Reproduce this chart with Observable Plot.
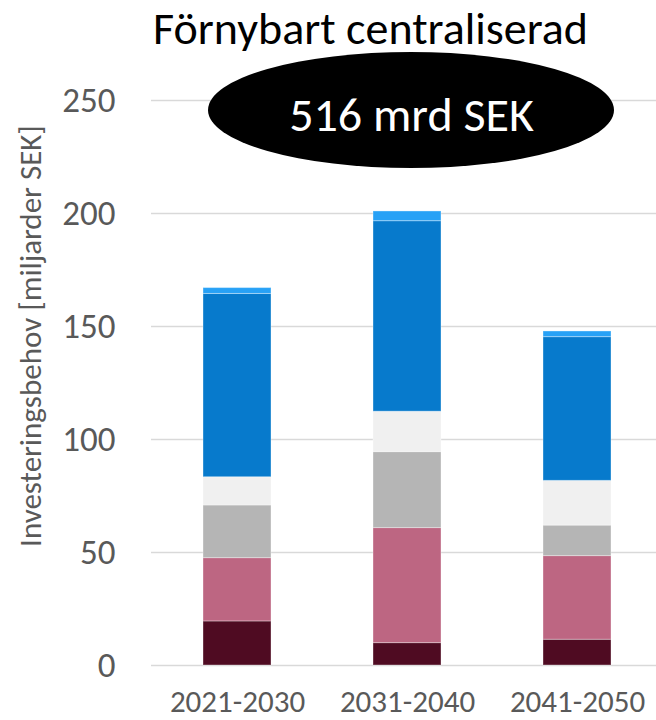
<!DOCTYPE html>
<html>
<head>
<meta charset="utf-8">
<script src="https://cdn.jsdelivr.net/npm/d3@7"></script>
<script src="https://cdn.jsdelivr.net/npm/@observablehq/plot@0.6"></script>
<style>
  body { margin: 0; background: #fff; }
</style>
</head>
<body>
<div id="chart"></div>
<script>
// Investment need per decade, billion SEK, stacked bottom to top
const periods = ["2021-2030", "2031-2040", "2041-2050"];
const seriesNames = ["mörkröd", "rosa", "grå", "ljusgrå", "blå", "ljusblå"];
const seriesColors = ["#4f0b22", "#bd6682", "#b5b5b5", "#f0f0f0", "#077acc", "#27a1f6"];

const darkRed   = [19.5,  9.9, 11.4];
const pink      = [28.0, 50.9, 37.0];
const gray      = [23.3, 33.6, 13.5];
const lightGray = [12.5, 17.9, 19.8];
const blue      = [81.1, 84.3, 63.6];
const lightBlue = [ 2.6,  4.3,  2.5];

const yTicks = [0, 50, 100, 150, 200, 250];
const title = "Förnybart centraliserad";
const yLabel = "Investeringsbehov [miljarder SEK]";

const seriesValues = [darkRed, pink, gray, lightGray, blue, lightBlue];
const rows = seriesNames.flatMap((s, i) =>
  periods.map((p, j) => ({period: p, serie: s, value: seriesValues[i][j]}))
);
const total = d3.sum(rows, d => d.value);
const totalLabel = `${Math.round(total)} mrd SEK`;

const font = "Calibri, Carlito, 'Liberation Sans', sans-serif";

// black ellipse behind the total label
function ellipseMark(index, scales, values, dimensions) {
  const x = scales.x;
  const bw = x.bandwidth ? x.bandwidth() : 0;
  const cx = x(periods[1]) + bw / 2 + 4;
  const cy = dimensions.marginTop + 10;
  const el = d3.create("svg:ellipse")
    .attr("cx", cx).attr("cy", cy)
    .attr("rx", 203).attr("ry", 58)
    .attr("fill", "#000");
  return el.node();
}

const chart = Plot.plot({
  width: 656,
  height: 720,
  marginTop: 100,
  marginBottom: 55,
  marginLeft: 157,
  marginRight: 0,
  style: {fontFamily: font, background: "#fff"},
  x: {domain: periods, paddingInner: 0.6, paddingOuter: 0.263, axis: null},
  y: {domain: [0, 250], axis: null},
  color: {domain: seriesNames, range: seriesColors},
  marks: [
    Plot.ruleY(yTicks, {stroke: "#d9d9d9", strokeWidth: 1.4, insetLeft: -6}),
    Plot.axisY({ticks: yTicks, tickSize: 0, tickPadding: 42, fontSize: 35, fill: "#595959", label: null}),
    Plot.axisX({tickSize: 0, tickPadding: 24, fontSize: 31, fill: "#595959", label: null}),
    Plot.barY(rows, {x: "period", y: "value", fill: "serie", stroke: "#fff", strokeOpacity: 0.35, strokeWidth: 1}),
    ellipseMark,
    Plot.text([totalLabel], {x: () => periods[1], frameAnchor: "top", dy: 15, dx: 4, fill: "#fff", fontSize: 48, lineAnchor: "middle", text: d => d}),
    Plot.text([title], {frameAnchor: "top-left", dx: 370 - 157, dy: -71, fontSize: 46, fill: "#000", textAnchor: "middle", lineAnchor: "middle", text: d => d}),
    Plot.text([yLabel], {frameAnchor: "left", dx: -126, dy: -47, rotate: -90, fontSize: 31, fill: "#595959", textAnchor: "middle", lineAnchor: "middle", text: d => d})
  ]
});

document.getElementById("chart").appendChild(chart);
</script>
</body>
</html>
